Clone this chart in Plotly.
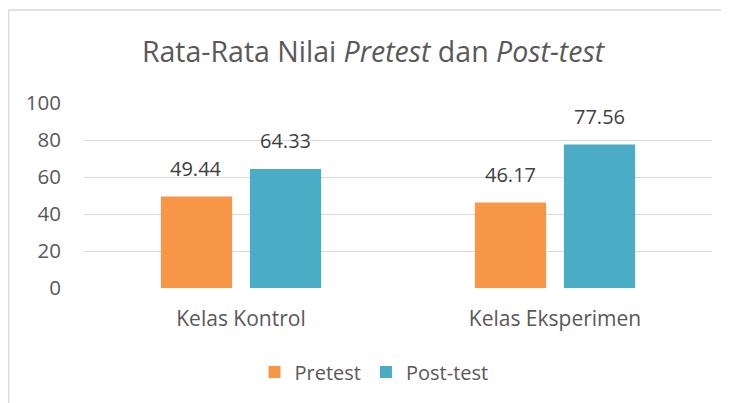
import plotly.graph_objects as go

categories = ["Kelas Kontrol", "Kelas Eksperimen"]
pretest = [49.44, 46.17]
posttest = [64.33, 77.56]
y_ticks = [0, 20, 40, 60, 80, 100]

# page body has an 8px margin; figure sized to fit the 729x403 window
W, H = 721, 395
L, R, T, B = 76, 17, 95, 115
PW, PH = W - L - R, H - T - B
txt = "#595959"
font = "Open Sans"
ORANGE, BLUE = "#F79646", "#4BACC6"

fig = go.Figure()
fig.add_trace(go.Bar(name="Pretest", x=categories, y=pretest, marker_color=ORANGE,
                     marker_line_width=0))
fig.add_trace(go.Bar(name="Post-test", x=categories, y=posttest, marker_color=BLUE,
                     marker_line_width=0))

for series, shift in ((pretest, -45), (posttest, 44.5)):
    for c, v in zip(categories, series):
        fig.add_annotation(x=c, y=v, xref="x", yref="y", text=f"{v:.2f}",
                           showarrow=False, xanchor="center", yanchor="bottom",
                           xshift=shift, yshift=13,
                           font=dict(size=20, color="#404040", family=font))

fig.update_layout(
    width=W, height=H,
    margin=dict(l=L, r=R, t=T, b=B, pad=0),
    paper_bgcolor="white", plot_bgcolor="white",
    barmode="group", bargap=0.433, bargroupgap=0.2,
    font=dict(family=font, color=txt),
    title=dict(text="Rata-Rata Nilai <i>Pretest</i> dan <i>Post-test</i>",
               x=365 / W, xanchor="center", y=1 - 44 / H, yanchor="middle",
               font=dict(size=28.5, color=txt, family=font)),
    yaxis=dict(range=[0, 100], tickvals=y_ticks, showgrid=True, gridcolor="#D9D9D9",
               gridwidth=1.3, zeroline=False, showline=False, ticks="",
               tickfont=dict(size=20.5, color=txt), ticklabelstandoff=22, fixedrange=True),
    xaxis=dict(showline=False, ticks="", tickfont=dict(size=21, color=txt),
               ticklabelstandoff=16),
    legend=dict(orientation="h", x=(374 - L - 8) / PW, xanchor="center",
                y=(280 - 364) / PH, yanchor="middle",
                font=dict(size=20, color=txt), itemwidth=30, traceorder="normal"),
    showlegend=True,
)

# outer chart border (left and top edges visible)
fig.add_shape(type="line", xref="paper", yref="paper",
              x0=(0.5 - L) / PW, x1=(W - L) / PW,
              y0=(H - B - 2) / PH, y1=(H - B - 2) / PH,
              line=dict(color="#D9D9D9", width=1.5))
fig.add_shape(type="line", xref="paper", yref="paper",
              x0=(0.5 - L) / PW, x1=(0.5 - L) / PW,
              y0=(H - B - 2) / PH, y1=(H - B - H) / PH,
              line=dict(color="#D9D9D9", width=1.5))

fig.write_html("out.html")
